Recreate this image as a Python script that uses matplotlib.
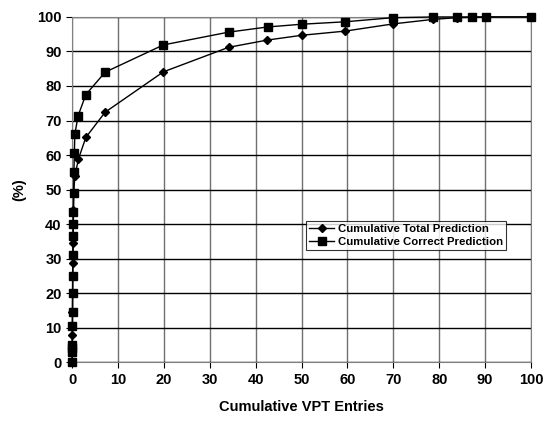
import matplotlib
matplotlib.use("Agg")
import matplotlib.pyplot as plt

plt.rcParams['font.family'] = ['Liberation Sans', 'DejaVu Sans']
plt.rcParams['font.weight'] = 'bold'

# cumulative VPT entries (%) vs cumulative prediction (%)
total_x = [0, 0.02, 0.04, 0.06, 0.08, 0.1, 0.12, 0.15, 0.18, 0.2, 0.25, 0.3, 0.35,
           0.6, 1.4, 3.0, 7.2, 19.9, 34.1, 42.5, 50.1, 59.5, 70.0, 78.7, 83.9,
           87.1, 90.3, 100]
total_y = [0, 4, 7.8, 10.5, 14.5, 20, 25, 28.6, 31, 34.5, 40, 44, 49,
           53.9, 58.9, 65.1, 72.4, 84.1, 91.2, 93.3, 94.7, 95.9, 98.0, 99.3, 99.8,
           99.9, 100, 100]

correct_x = [0, 0.02, 0.03, 0.05, 0.08, 0.1, 0.13, 0.16, 0.2, 0.24, 0.27, 0.3,
             0.35, 0.4, 0.5, 0.6, 1.3, 3.0, 7.2, 19.9, 34.1, 42.6, 50.1, 59.5,
             70.0, 78.7, 83.9, 87.1, 90.3, 100]
correct_y = [0, 3, 4, 5, 10.5, 14.5, 20, 25, 31, 36.5, 40, 43.5,
             49, 55, 60.5, 66, 71.3, 77.5, 84, 91.9, 95.6, 97.1, 97.9, 98.6,
             99.8, 100, 100, 100, 100, 100]

fig = plt.figure(figsize=(5.46, 4.24), dpi=100)
ax = fig.add_axes([0.132, 0.146, 0.8405, 0.814])

ax.plot(total_x, total_y, color='black', lw=1, marker='D', ms=4,
        label='Cumulative Total Prediction', clip_on=False, zorder=3)
ax.plot(correct_x, correct_y, color='black', lw=1, marker='s', ms=6,
        label='Cumulative Correct Prediction', clip_on=False, zorder=3)

ax.set_xlim(0, 100)
ax.set_ylim(0, 100)
ax.set_xticks(range(0, 101, 10))
ax.set_yticks(range(0, 101, 10))
ax.xaxis.grid(True, color='#707070', lw=1)
ax.yaxis.grid(True, color='black', lw=1)
ax.set_axisbelow(True)
for s in ax.spines.values():
    s.set_color('#808080')
ax.tick_params(labelsize=10.5, length=4, color='black')

ax.set_xlabel('Cumulative VPT Entries', fontsize=10.5, fontweight='bold',
              labelpad=10)
ax.set_ylabel('(%)', fontsize=10.5, fontweight='bold', labelpad=8)

leg = ax.legend(loc='upper left', bbox_to_anchor=(0.509, 0.41), fontsize=8.2,
                frameon=True, fancybox=False, edgecolor='black',
                borderpad=0.3, labelspacing=0.25, handlelength=2.2,
                handletextpad=0.3, borderaxespad=0)
leg.get_frame().set_linewidth(0.8)
for t in leg.get_texts():
    t.set_fontweight('bold')

fig.savefig('out.png', dpi=100)
